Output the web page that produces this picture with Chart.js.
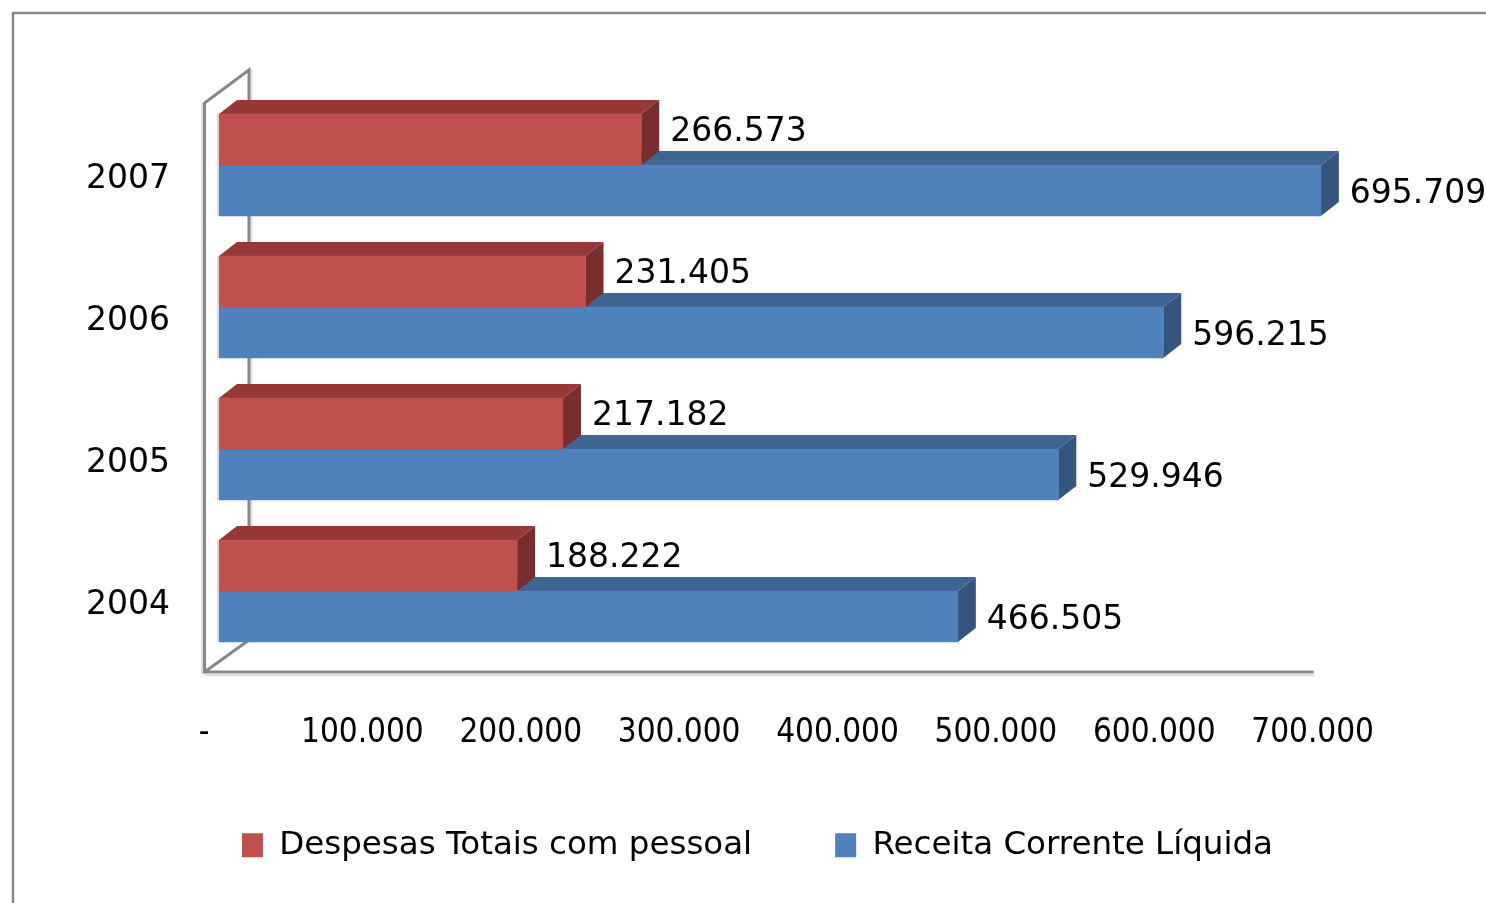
<!DOCTYPE html>
<html>
<head>
<meta charset="utf-8">
<script src="https://cdn.jsdelivr.net/npm/chart.js@4.4.1/dist/chart.umd.min.js"></script>
<style>
  html, body { margin: 0; padding: 0; background: #fff; }
  #wrap { width: 1486px; height: 903px; }
</style>
</head>
<body>
<div id="wrap"><canvas id="chart"></canvas></div>
<script>
const years = ['2007', '2006', '2005', '2004'];
const despesas = [266573, 231405, 217182, 188222];
const receita = [695709, 596215, 529946, 466505];
const xTicks = [0, 100000, 200000, 300000, 400000, 500000, 600000, 700000];

const DX = 18, DY = 14;

function fmt(v){
  if(v === 0) return '-';
  return v.toString().replace(/\B(?=(\d{3})+(?!\d))/g, '.');
}

// outer frame + 3d walls
const walls = {
  id:'walls',
  beforeDatasetsDraw(chart){
    const {ctx, chartArea:{left,top,bottom}} = chart;
    const xs = chart.scales.x;
    const fx = left - 14.5, bx = left + 30;
    const ty = top + 9, tby = top - 24;
    const fy = bottom + 10, fby = bottom - 22;
    const rx = xs.getPixelForValue(xTicks[xTicks.length-1]) - 14;
    ctx.save();
    // light shadow lines
    ctx.strokeStyle = '#dedede';
    ctx.lineWidth = 2;
    ctx.beginPath();
    ctx.moveTo(fx - 2.5, ty); ctx.lineTo(fx - 2.5, fy + 2);
    ctx.moveTo(fx, fy + 3); ctx.lineTo(rx, fy + 3);
    ctx.moveTo(bx + 2.5, tby); ctx.lineTo(bx + 2.5, fby);
    ctx.stroke();
    ctx.strokeStyle = '#878787';
    ctx.lineWidth = 3;
    ctx.beginPath();
    ctx.moveTo(bx, fby); ctx.lineTo(bx, tby); ctx.lineTo(fx, ty);
    ctx.lineTo(fx, fy); ctx.lineTo(rx, fy);
    ctx.moveTo(fx, fy); ctx.lineTo(bx, fby);
    ctx.stroke();
    ctx.restore();
  },
  beforeDraw(chart){
    const {ctx} = chart;
    ctx.save();
    ctx.strokeStyle = '#888';
    ctx.lineWidth = 2.5;
    ctx.strokeRect(13, 13, 1600, 1000);
    ctx.restore();
  }
};

// top and side faces of the bars
const faces = {
  id:'faces',
  beforeDatasetsDraw(chart){
    const {ctx} = chart;
    const shades = [['#963836','#782e2c'], ['#3e6592','#35557f']];
    ctx.save();
    for(let d = chart.data.datasets.length - 1; d >= 0; d--){
      chart.getDatasetMeta(d).data.forEach(el => {
        const t = el.y - el.height/2, b = el.y + el.height/2;
        ctx.fillStyle = shades[d][0];
        ctx.beginPath();
        ctx.moveTo(el.base, t); ctx.lineTo(el.x, t);
        ctx.lineTo(el.x + DX, t - DY); ctx.lineTo(el.base + DX, t - DY);
        ctx.closePath(); ctx.fill();
        ctx.fillStyle = shades[d][1];
        ctx.beginPath();
        ctx.moveTo(el.x, t); ctx.lineTo(el.x + DX, t - DY);
        ctx.lineTo(el.x + DX, b - DY); ctx.lineTo(el.x, b);
        ctx.closePath(); ctx.fill();
      });
      // faint light edge on the left of the front faces
      ctx.fillStyle = d === 0 ? '#ecd0cf' : '#d3deee';
      chart.getDatasetMeta(d).data.forEach(el => {
        ctx.fillRect(el.base - 2, el.y - el.height/2, 2, el.height);
      });
    }
    ctx.restore();
  }
};

const valueLabels = {
  id:'valueLabels',
  afterDatasetsDraw(chart){
    const {ctx} = chart;
    const dy = [-7, 4];
    ctx.save();
    ctx.font = '33px "DejaVu Sans"';
    ctx.fillStyle = '#000';
    ctx.textAlign = 'left';
    ctx.textBaseline = 'middle';
    chart.data.datasets.forEach((ds, d) => {
      chart.getDatasetMeta(d).data.forEach((el, i) => {
        ctx.fillText(fmt(ds.data[i]), el.x + 29, el.y + dy[d]);
      });
    });
    ctx.restore();
  }
};

const ctx = document.getElementById('chart');

const myChart = new Chart(ctx, {
  type:'bar',
  data:{
    labels: years,
    datasets:[
      { label:'Despesas Totais com pessoal', data: despesas, backgroundColor:'#C0504D', borderWidth:0 },
      { label:'Receita Corrente Líquida', data: receita, backgroundColor:'#4F81BD', borderWidth:0 }
    ]
  },
  options:{
    indexAxis:'y',
    responsive:true,
    maintainAspectRatio:false,
    animation:false,
    layout:{ padding:{ left:29, right:0, top:94, bottom:31.5 } },
    datasets:{ bar:{ barThickness:51 } },
    scales:{
      x:{
        min:0,
        max:800000,
        grid:{ display:false, drawTicks:false },
        border:{ display:false },
        afterBuildTicks(scale){ scale.ticks = xTicks.map(v => ({value:v})); },
        afterFit(scale){ scale.height = 84; },
        ticks:{
          padding:52,
          labelOffset:-15,
          color:'#000',
          font:{ family:'"DejaVu Sans Condensed", "Liberation Sans"', size:33 },
          callback:(v) => fmt(v)
        }
      },
      y:{
        grid:{ display:false, drawTicks:false },
        border:{ display:false },
        afterFit(scale){ scale.width = 190; },
        ticks:{
          padding:49,
          labelOffset:14,
          color:'#000',
          font:{ family:'"DejaVu Sans"', size:33 }
        }
      }
    },
    plugins:{
      legend:{
        position:'bottom',
        labels:{
          boxWidth:21,
          boxHeight:24,
          padding:83,
          color:'#000',
          font:{ family:'"DejaVu Sans"', size:32.5 }
        }
      },
      tooltip:{ enabled:false }
    }
  },
  plugins:[walls, faces, valueLabels]
});
</script>
</body>
</html>
